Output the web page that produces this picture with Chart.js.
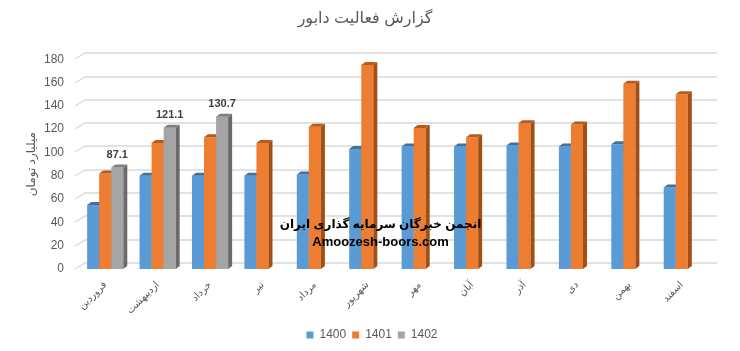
<!DOCTYPE html>
<html>
<head>
<meta charset="utf-8">
<script src="https://cdn.jsdelivr.net/npm/chart.js@4.4.1/dist/chart.umd.min.js"></script>
<style>
  body { margin: 0; background: #fff; }
</style>
</head>
<body>
<canvas id="daburChart" width="740" height="351"></canvas>
<script>
// Months (categories)
const months = ['فروردین', 'اردیبهشت', 'خرداد', 'تیر', 'مرداد', 'شهریور', 'مهر', 'آبان', 'آذر', 'دی', 'بهمن', 'اسفند'];
// Values per year (billion toman)
const year1400 = [55, 80, 80, 80, 81, 103, 105, 105, 106, 105, 107, 70];
const year1401 = [82, 108, 113, 108, 122, 175, 121, 113, 125, 124, 159, 150];
const year1402 = [87.1, 121.1, 130.7, null, null, null, null, null, null, null, null, null];
const yearNames = ['1400', '1401', '1402'];
const yTicks = [0, 20, 40, 60, 80, 100, 120, 140, 160, 180];

const textGray = '#595959';
const baseFont = "'Liberation Sans', 'DejaVu Sans', sans-serif";

// front / top / side colours
const faceColors = ['#5b9bd5', '#ed7d31', '#a5a5a5'];
const topColors = ['#41719c', '#b85a1b', '#7f7f7f'];
const sideColors = ['#3f6e99', '#a24f16', '#6b6b6b'];
const depthX = 4, depthY = 3;

function drawFaces(chart, i) {
  const { ctx } = chart;
  const values = chart.data.datasets[i].data;
  ctx.save();
  chart.getDatasetMeta(i).data.forEach((bar, k) => {
    if (values[k] == null) return;
    const x0 = bar.x - bar.width / 2, x1 = bar.x + bar.width / 2;
    const top = bar.y, bottom = bar.base;
    ctx.fillStyle = sideColors[i];
    ctx.beginPath();
    ctx.moveTo(x1, top);
    ctx.lineTo(x1 + depthX, top - depthY);
    ctx.lineTo(x1 + depthX, bottom - depthY);
    ctx.lineTo(x1, bottom);
    ctx.closePath();
    ctx.fill();
    ctx.fillStyle = topColors[i];
    ctx.beginPath();
    ctx.moveTo(x0, top);
    ctx.lineTo(x0 + depthX, top - depthY);
    ctx.lineTo(x1 + depthX, top - depthY);
    ctx.lineTo(x1, top);
    ctx.closePath();
    ctx.fill();
  });
  ctx.restore();
}

// back-wall gridlines, then the series left to right so each 3D column overlaps the previous one
const columnPlugin = {
  id: 'columns3d',
  afterLayout(chart) {
    // legend sits a little right of centre in the original
    chart.legend.left += 7;
    chart.legend.right += 7;
  },
  beforeDatasetsDraw(chart) {
    const { ctx, chartArea, scales } = chart;
    ctx.save();
    ctx.strokeStyle = '#d9d9d9';
    ctx.lineWidth = 1.3;
    scales.y.ticks.forEach(t => {
      const y = Math.round(scales.y.getPixelForValue(t.value));
      ctx.beginPath();
      ctx.moveTo(chartArea.left - 4, y);
      ctx.lineTo(chartArea.left + 6, y - 6);
      ctx.lineTo(chartArea.right + 9, y - 6);
      ctx.stroke();
    });
    ctx.restore();
    chart.data.datasets.forEach((ds, i) => {
      chart.getDatasetMeta(i).controller.draw();
      drawFaces(chart, i);
    });
    return false;
  }
};

// value labels on the 1402 series + watermark text
const labelPlugin = {
  id: 'labels',
  afterDraw(chart) {
    const { ctx, chartArea } = chart;
    ctx.save();
    const meta = chart.getDatasetMeta(2);
    ctx.font = 'bold 11px ' + baseFont;
    ctx.fillStyle = '#404040';
    ctx.textAlign = 'center';
    ctx.textBaseline = 'bottom';
    meta.data.forEach((bar, k) => {
      const v = year1402[k];
      if (v == null) return;
      ctx.fillText(v.toFixed(1), bar.x, bar.y - 7);
    });
    const cx = (chartArea.left + chartArea.right) / 2 - 13;
    ctx.fillStyle = '#000';
    ctx.textBaseline = 'middle';
    ctx.font = 'bold 12px ' + baseFont;
    ctx.fillText('انجمن خبرگان سرمایه گذاری ایران', cx, 225);
    ctx.font = 'bold 13px ' + baseFont;
    ctx.fillText('Amoozesh-boors.com', cx, 242);
    ctx.restore();
  }
};

const ctx = document.getElementById('daburChart').getContext('2d');
const daburChart = new Chart(ctx, {
  type: 'bar',
  data: {
    labels: months,
    datasets: [
      { label: yearNames[0], data: year1400, backgroundColor: faceColors[0] },
      { label: yearNames[1], data: year1401, backgroundColor: faceColors[1] },
      { label: yearNames[2], data: year1402, backgroundColor: faceColors[2] }
    ]
  },
  options: {
    responsive: false,
    animation: false,
    categoryPercentage: 0.69,
    barPercentage: 1.0,
    layout: { padding: { left: 22, right: 32, top: 0, bottom: 0 } },
    scales: {
      x: {
        grid: { display: false, drawTicks: false },
        border: { display: false },
        ticks: {
          color: textGray,
          font: { size: 10, family: baseFont },
          minRotation: 45,
          maxRotation: 45,
          padding: 10
        },
        afterFit: s => { s.height = 54; s.paddingLeft = 0; s.paddingRight = 0; }
      },
      y: {
        min: 0,
        max: 180,
        afterBuildTicks: s => { s.ticks = yTicks.map(v => ({ value: v })); },
        afterFit: s => { s.width = 57; },
        grid: { display: false, drawTicks: false },
        border: { display: false },
        ticks: {
          color: textGray,
          font: { size: 12, family: baseFont },
          padding: 15
        },
        title: {
          display: true,
          text: 'میلیارد تومان',
          color: textGray,
          font: { size: 12, family: baseFont },
          padding: 2
        }
      }
    },
    plugins: {
      title: {
        display: true,
        text: 'گزارش فعالیت دابور',
        color: textGray,
        font: { size: 16, weight: 'normal', family: baseFont },
        padding: { top: 9, bottom: 31 }
      },
      legend: {
        position: 'bottom',
        labels: {
          color: textGray,
          font: { size: 12, family: baseFont },
          boxWidth: 7,
          boxHeight: 7,
          padding: 6
        }
      },
      tooltip: { enabled: false }
    }
  },
  plugins: [columnPlugin, labelPlugin]
});
</script>
</body>
</html>
